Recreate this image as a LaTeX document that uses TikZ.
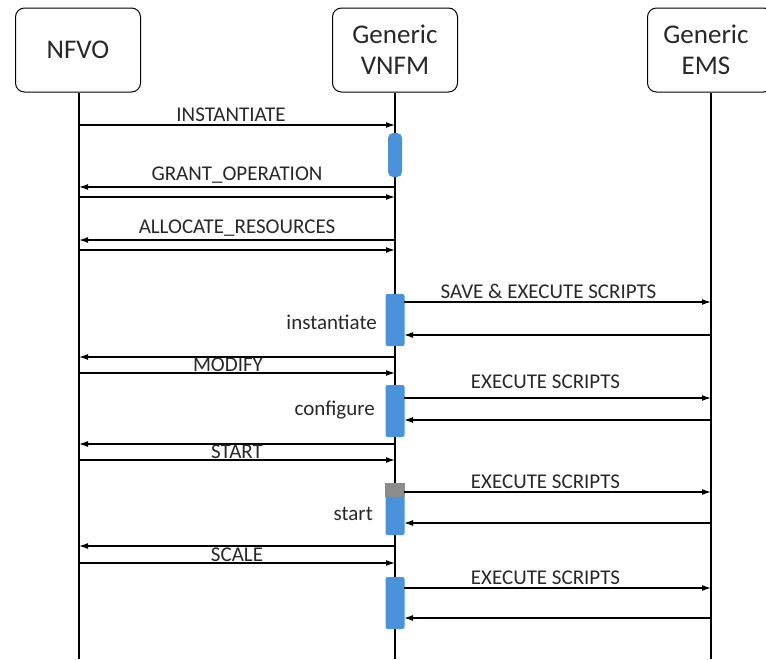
\documentclass[tikz,border=0pt]{standalone}
\usepackage{fontspec}
\setmainfont{Carlito}
\usetikzlibrary{arrows.meta}
\definecolor{actblue}{RGB}{74,146,218}
\definecolor{actgray}{RGB}{140,140,140}
\definecolor{txt}{RGB}{40,40,40}
\begin{document}
\begin{tikzpicture}[x=1pt,y=-1pt,
  actor/.style={draw,rounded corners=9pt,line width=1pt,minimum width=125pt,minimum height=84pt,inner sep=0pt,align=center,text=txt,font=\fontsize{27}{31}\selectfont},
  life/.style={line width=1.4pt},
  msg/.style={line width=1.3pt,-{Latex[length=9pt,width=6pt]}},
  lbl/.style={font=\fontsize{21}{24}\selectfont,inner sep=0pt,text=txt},
  act/.style={fill=actblue,draw=none,rounded corners=2pt}]
\useasboundingbox (0,0) rectangle (766,659);
\fill[white] (0,0) rectangle (766,659);
% actors
\node[actor] (nfvo) at (78,50) {NFVO};
\node[actor] (vnfm) at (395,50) {Generic\\VNFM};
\node[actor,text width=125pt] (ems) at (710,50) {\hspace*{-8pt}Generic\\\hspace*{-8pt}EMS};
% lifelines
\coordinate (nb) at (79,659);
\coordinate (vb) at (395,659);
\coordinate (eb) at (711,659);
\draw[life] (nfvo.south -| nb) -- (nb);
\draw[life] (vnfm.south) -- (vb);
\draw[life] (ems.south -| eb) -- (eb);
% activations
\node[act,minimum width=14pt,minimum height=44pt,inner sep=0pt,rounded corners=5pt] (a0) at (395,155) {};
\node[act,minimum width=19pt,minimum height=52pt,inner sep=0pt] (a1) at (395,320) {};
\node[act,minimum width=19pt,minimum height=52pt,inner sep=0pt] (a2) at (395,411) {};
\node[act,minimum width=19pt,minimum height=52pt,inner sep=0pt] (a3) at (395,509) {};
\fill[actgray] (a3.north west) rectangle ([yshift=-14pt]a3.north east);
\node[act,minimum width=19pt,minimum height=52pt,inner sep=0pt] (a4) at (395,603) {};
% message anchors
\foreach \n/\y in {1/125,2/187,3/197,4/240,5/250,6/357,7/373,8/444,9/460,10/546,11/563}{
  \coordinate (n\n) at (79,\y);
  \coordinate (v\n) at (395,\y);
}
\foreach \n/\y in {12/302,13/335,14/398,15/420,16/492,17/523,18/588,19/618}{
  \coordinate (v\n) at (404,\y);
  \coordinate (e\n) at (711,\y);
}
% NFVO <-> VNFM
\draw[msg] (n1) -- node[lbl,above=3pt,xshift=-6pt] {INSTANTIATE} (v1);
\draw[msg] (v2) -- node[lbl,above=3pt] {GRANT\_OPERATION} (n2);
\draw[msg] (n3) -- (v3);
\draw[msg] (v4) -- node[lbl,above=3pt] {ALLOCATE\_RESOURCES} (n4);
\draw[msg] (n5) -- (v5);
\draw[msg] (v6) -- (n6);
\draw[msg] (n7) -- node[lbl,above=1pt,xshift=-9pt] {MODIFY} (v7);
\draw[msg] (v8) -- (n8);
\draw[msg] (n9) -- node[lbl,above=1pt] {START} (v9);
\draw[msg] (v10) -- (n10);
\draw[msg] (n11) -- node[lbl,above=1pt] {SCALE} (v11);
% VNFM <-> EMS
\draw[msg] (v12) -- node[lbl,above=3pt,xshift=-9pt] {SAVE \& EXECUTE SCRIPTS} (e12);
\draw[msg] (e13) -- (v13);
\draw[msg] (v14) -- node[lbl,above=9pt,xshift=-12pt] {EXECUTE SCRIPTS} (e14);
\draw[msg] (e15) -- (v15);
\draw[msg] (v16) -- node[lbl,above=3pt,xshift=-12pt] {EXECUTE SCRIPTS} (e16);
\draw[msg] (e17) -- (v17);
\draw[msg] (v18) -- node[lbl,above=3pt,xshift=-12pt] {EXECUTE SCRIPTS} (e18);
\draw[msg] (e19) -- (v19);
% activation labels
\node[lbl,anchor=east] (l1) at (377,322) {instantiate};
\node[lbl,anchor=east] (l2) at (375,410) {configure};
\node[lbl,anchor=east] (l3) at (373,514) {start};
\end{tikzpicture}
\end{document}
